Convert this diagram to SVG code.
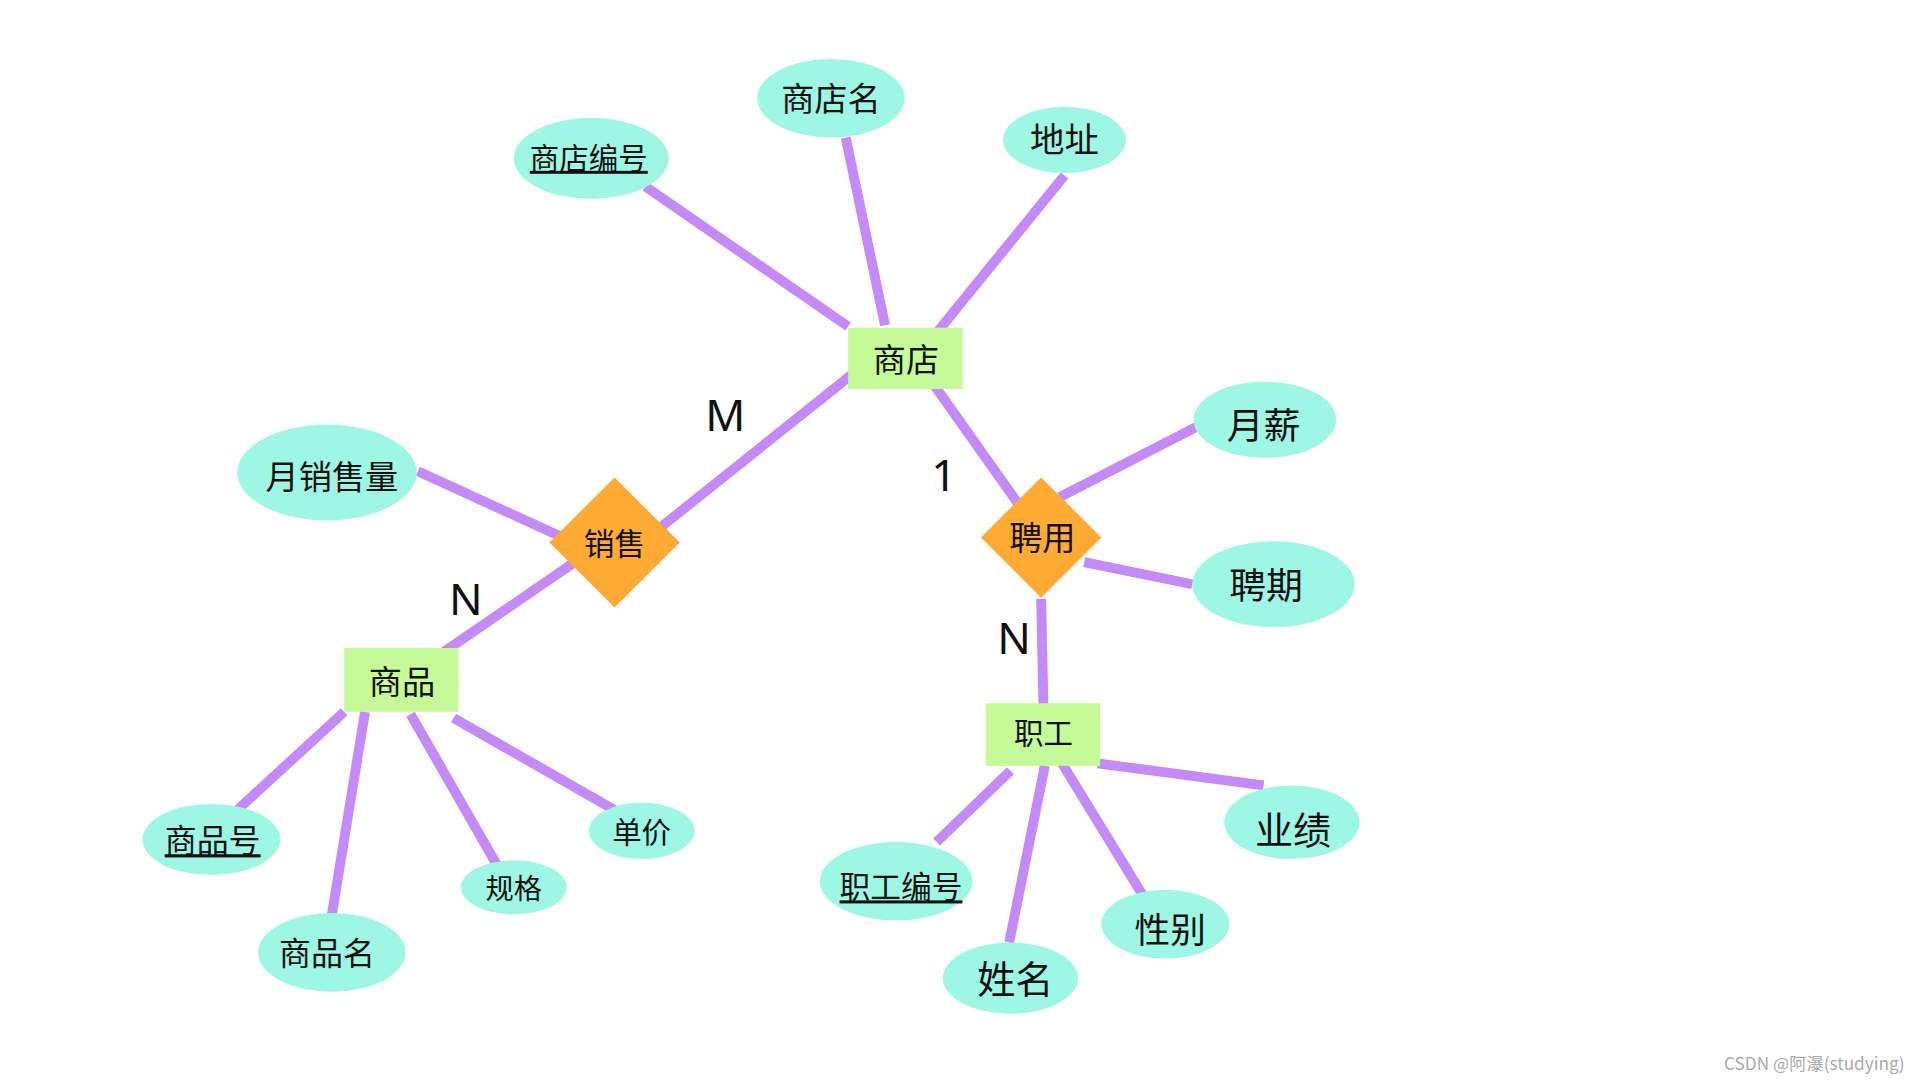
<svg xmlns="http://www.w3.org/2000/svg" width="1920" height="1080" viewBox="0 0 1920 1080">
<style>
.e{fill:#9ef7e4}.r{fill:#c6fa98}.d{fill:#ffaa33}
.c line{stroke:#c38af8;stroke-width:8}
text{font-family:"Noto Sans CJK SC","Noto Sans",sans-serif;fill:#111;text-anchor:middle;dominant-baseline:central}
.u{text-decoration:underline}
.l{font-family:"Noto Sans",sans-serif;font-size:36px}
</style>
<rect width="1920" height="1080" fill="#fff"/>
<g transform="scale(1.2292,1.2273)">
<g class="c">
<line x1="525" y1="152" x2="690" y2="266"/><line x1="688" y1="112" x2="720" y2="265"/><line x1="866" y1="143" x2="763" y2="270"/>
<line x1="697" y1="302" x2="537" y2="430"/><line x1="340" y1="384" x2="458" y2="438"/><line x1="472" y1="455" x2="354" y2="536"/>
<line x1="280" y1="580" x2="193" y2="660"/><line x1="297" y1="580" x2="270" y2="745"/><line x1="334" y1="582" x2="405" y2="706"/><line x1="369" y1="585" x2="500" y2="660"/>
<line x1="758" y1="311" x2="828" y2="410"/><line x1="862" y1="405" x2="977" y2="346"/><line x1="882" y1="458" x2="970" y2="476"/><line x1="847" y1="488" x2="849" y2="580"/>
<line x1="893" y1="622" x2="1028" y2="640"/><line x1="864" y1="622" x2="930" y2="730"/><line x1="850" y1="624" x2="821" y2="768"/><line x1="822" y1="628" x2="762" y2="686"/>
</g>
<g id="shop"><rect class="r" x="690" y="267" width="93" height="50"/><text x="737" y="292" font-size="27">商店</text></g>
<g id="shopname"><ellipse class="e" cx="676" cy="80" rx="60" ry="32"/><text x="676" y="79" font-size="27">商店名</text></g>
<g id="shopid"><ellipse class="e" cx="481" cy="129" rx="63" ry="33"/><text class="u" x="479" y="127" font-size="24">商店编号</text></g>
<g id="addr"><ellipse class="e" cx="866" cy="114" rx="50" ry="27"/><text x="866" y="112" font-size="28">地址</text></g>
<g id="sale"><polygon class="d" points="500,389 553,442 500,495 447,442"/><text x="500" y="441" font-size="25">销售</text></g>
<g id="msales"><ellipse class="e" cx="266" cy="385" rx="73" ry="39"/><text x="270" y="387" font-size="27">月销售量</text></g>
<g id="goods"><rect class="r" x="280" y="528" width="93" height="52"/><text x="327" y="554" font-size="27">商品</text></g>
<g id="gid"><ellipse class="e" cx="172" cy="684" rx="56" ry="29"/><text class="u" x="173" y="683" font-size="26">商品号</text></g>
<g id="gname"><ellipse class="e" cx="270" cy="776" rx="60" ry="32"/><text x="266" y="775" font-size="26">商品名</text></g>
<g id="spec"><ellipse class="e" cx="418" cy="723" rx="43" ry="22"/><text x="418" y="722" font-size="23">规格</text></g>
<g id="price"><ellipse class="e" cx="522" cy="677" rx="43" ry="23"/><text x="522" y="676" font-size="24">单价</text></g>
<g id="hire"><polygon class="d" points="847,389 896,438 847,487 798,438"/><text x="848" y="437" font-size="27">聘用</text></g>
<g id="salary"><ellipse class="e" cx="1029" cy="342" rx="58" ry="31"/><text x="1028" y="345" font-size="30">月薪</text></g>
<g id="term"><ellipse class="e" cx="1036" cy="476" rx="66" ry="35"/><text x="1030" y="475" font-size="30">聘期</text></g>
<g id="staff"><rect class="r" x="802" y="573" width="93" height="51"/><text x="849" y="596" font-size="24">职工</text></g>
<g id="perf"><ellipse class="e" cx="1051" cy="670" rx="55" ry="30"/><text x="1052" y="674" font-size="31">业绩</text></g>
<g id="sex"><ellipse class="e" cx="948" cy="753" rx="52" ry="28"/><text x="952" y="756" font-size="29">性别</text></g>
<g id="name"><ellipse class="e" cx="822" cy="797" rx="55" ry="29"/><text x="826" y="796" font-size="31">姓名</text></g>
<g id="sid"><ellipse class="e" cx="729" cy="718" rx="62" ry="32"/><text class="u" x="733" y="721" font-size="25">职工编号</text></g>
<text class="l" x="590" y="337">M</text><text class="l" x="379" y="487">N</text><text class="l" x="768" y="386">1</text><text class="l" x="825" y="519">N</text>
<text x="1476" y="866" font-size="14" style="fill:#aaa">CSDN @阿瀑(studying)</text>
</g>
</svg>
